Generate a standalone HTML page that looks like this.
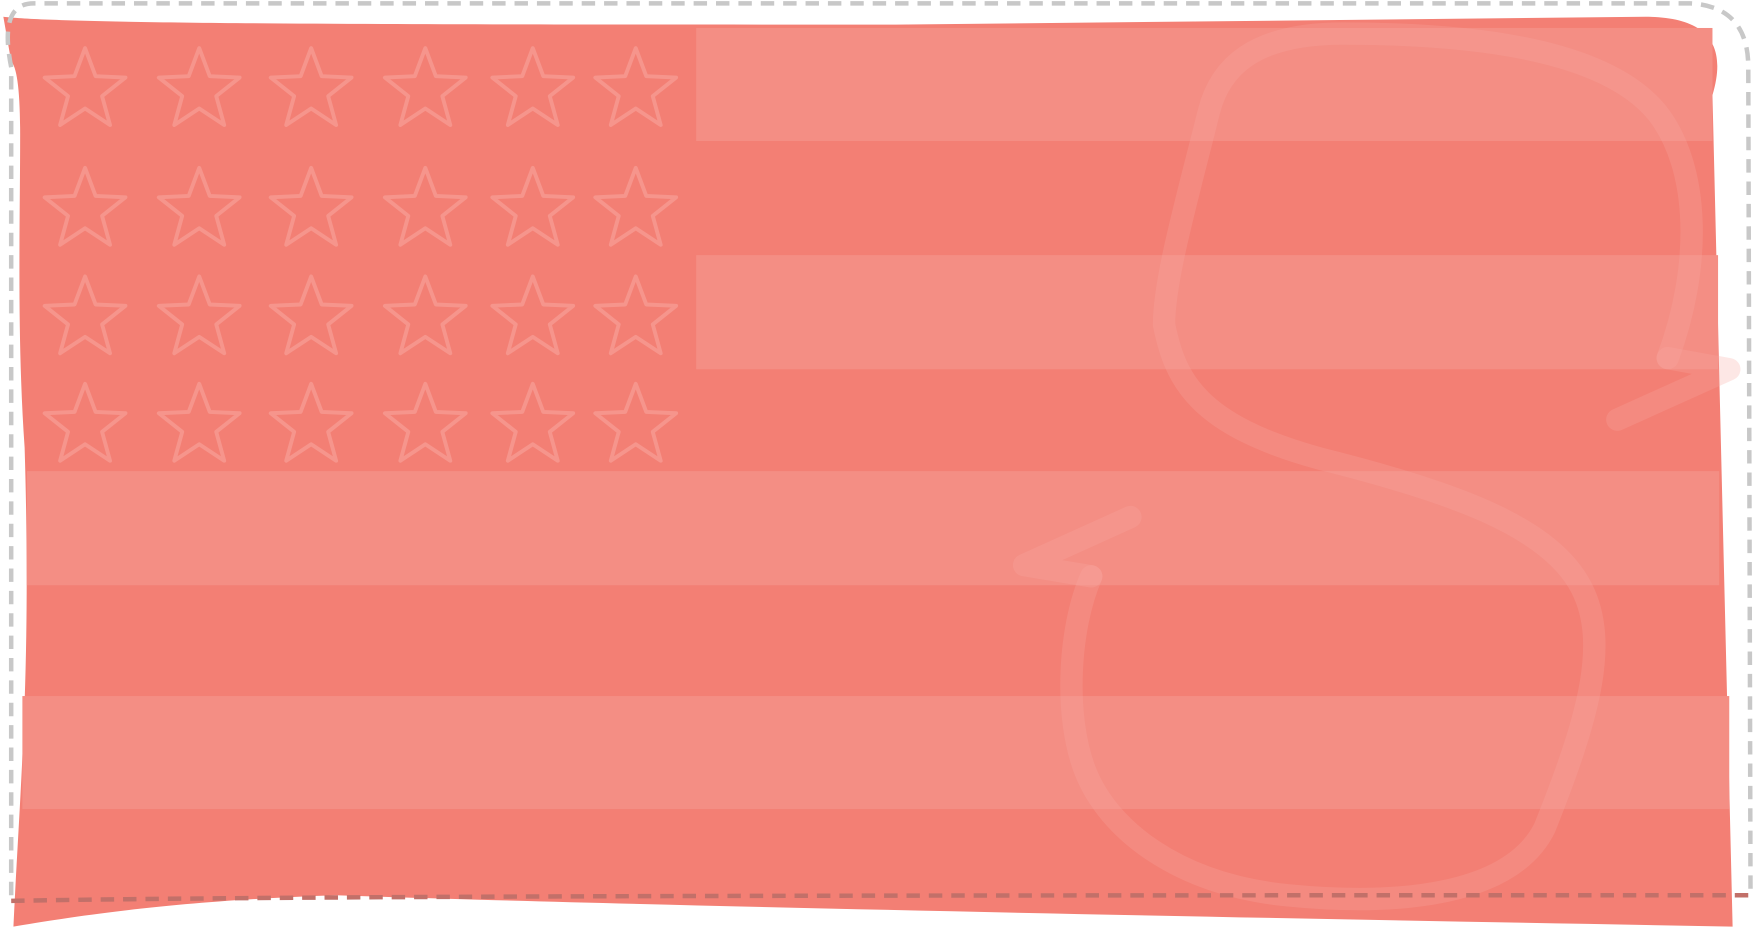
<!DOCTYPE html>
<html><head><meta charset="utf-8"><style>
html,body{margin:0;padding:0;background:#fff;width:1755px;height:940px;overflow:hidden}
svg{display:block}
</style></head><body>
<svg width="1755" height="940" viewBox="0 0 1568 840" preserveAspectRatio="none" xmlns="http://www.w3.org/2000/svg">
<path d="M3,15 C60,22 400,22 800,22 L1470,15 C1520,15 1545,35 1530,85 L1548,828 C1100,820 600,810 300,800 C150,805 60,820 12,828 C18,700 28,600 22,400 C15,300 18,200 18,120 C18,80 15,60 10,55 Z" fill="#f37f74"/>
<g fill="#f48e84">
<rect x="622" y="25" width="908" height="101"/>
<rect x="622" y="228" width="913" height="102"/>
<rect x="24" y="421" width="1512" height="102"/>
<rect x="20" y="622" width="1525" height="101"/>
</g>
<g fill="none" stroke="#f8aaa2" stroke-opacity="0.28" stroke-width="20" stroke-linecap="round" stroke-linejoin="round">
<path d="M1490,320 C1520,240 1520,150 1480,100 C1430,40 1300,30 1200,30 C1120,30 1090,60 1080,100 C1060,180 1040,250 1040,290 C1050,340 1070,380 1180,410 C1300,440 1380,470 1410,520 C1440,570 1420,640 1380,740 C1350,800 1250,810 1150,800 C1050,790 990,740 970,690 C950,640 955,560 975,515"/>
<path d="M1490,320 L1545,330 L1445,375"/>
<path d="M975,515 L915,505 L1010,462"/>
</g>
<g id="stars" fill="none" stroke="#f6958c" stroke-width="3.5" stroke-linejoin="round"></g>
<g fill="none" stroke-width="4" stroke-dasharray="12,8">
<path d="M10,800 L10,60 C4,30 5,3 30,3 L1510,3 C1550,5 1562,30 1562,60 L1564,800" stroke="#c8c8c8"/>
<path d="M10,805 C300,800 900,800 1565,800" stroke="#c27069"/>
</g>
</svg>
<script>
const starCols=[76,178,278,380,476,568];
const starRows=[78,185,282,378];
const g=document.getElementById('stars');
starRows.forEach((cy,ri)=>starCols.forEach((cx,ci)=>{
  let pts=[];
  for(let k=0;k<10;k++){const r=k%2?16:38;const a=-Math.PI/2+k*Math.PI/5;pts.push((cx+r*Math.cos(a)).toFixed(1)+','+(cy+3+r*Math.sin(a)).toFixed(1));}
  const p=document.createElementNS('http://www.w3.org/2000/svg','polygon');
  p.setAttribute('points',pts.join(' '));
  
  
  g.appendChild(p);
}));
</script>
</body></html>
